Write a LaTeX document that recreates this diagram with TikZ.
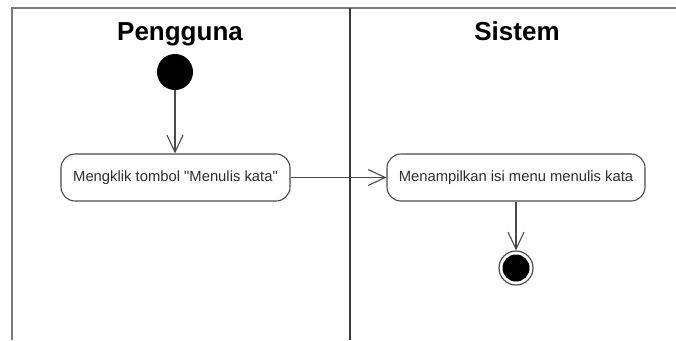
\documentclass[tikz,border=0pt]{standalone}
\usepackage{fontspec}
\setmainfont{Liberation Sans}[Ligatures=TeXOff]
\usetikzlibrary{arrows.meta}
\definecolor{framegray}{HTML}{7A7A7A}
\definecolor{divgray}{HTML}{3A3A3A}
\definecolor{edgegray}{HTML}{4A4A4A}
\definecolor{txtgray}{HTML}{2E2E2E}
\begin{document}
\begin{tikzpicture}[x=1pt,y=-1pt,
  lanetitle/.style={font=\fontsize{26}{30}\selectfont\bfseries, text=black, anchor=base, inner sep=0pt},
  action/.style={draw=edgegray, line width=1.1pt, rounded corners=14pt, fill=white,
    minimum height=47pt, inner sep=0pt, text=txtgray, font=\fontsize{14.8}{17}\selectfont},
  flow/.style={draw=edgegray, line width=1.1pt, -{Straight Barb[length=17pt,width=16pt,line width=1.1pt]}},
  startdot/.style={circle, fill=black, minimum size=36pt, inner sep=0pt},
  enddot/.style={circle, draw=edgegray, line width=1.2pt, fill=white, minimum size=34pt, inner sep=0pt,
    path picture={\fill[black] (path picture bounding box.center) circle (13.5pt);}}
]
\useasboundingbox (0,0) rectangle (676,340);
\fill[white] (0,0) rectangle (676,340);

% swimlane frame
\draw[framegray, line width=2pt] (12,340) -- (12,8) -- (676,8);
\draw[divgray, line width=2pt] (350,8) -- (350,340);

% lane titles
\node[lanetitle] (t1) at (180,40) {Pengguna};
\node[lanetitle] (t2) at (517,40) {Sistem};

% activities
\node[startdot] (s) at (175,72) {};
\node[action, minimum width=229pt] (a1) at (175.5,177.5) {Mengklik tombol "Menulis kata"};
\node[action, minimum width=258pt] (a2) at (516,177.5) {Menampilkan isi menu menulis kata};
\node[enddot] (e) at (516,268) {};

% transitions
\draw[flow] (s) -- (s |- a1.north);
\draw[flow] (a1.east) -- (a2.west);
\draw[flow] (a2.south) -- (e.north);
\end{tikzpicture}
\end{document}
